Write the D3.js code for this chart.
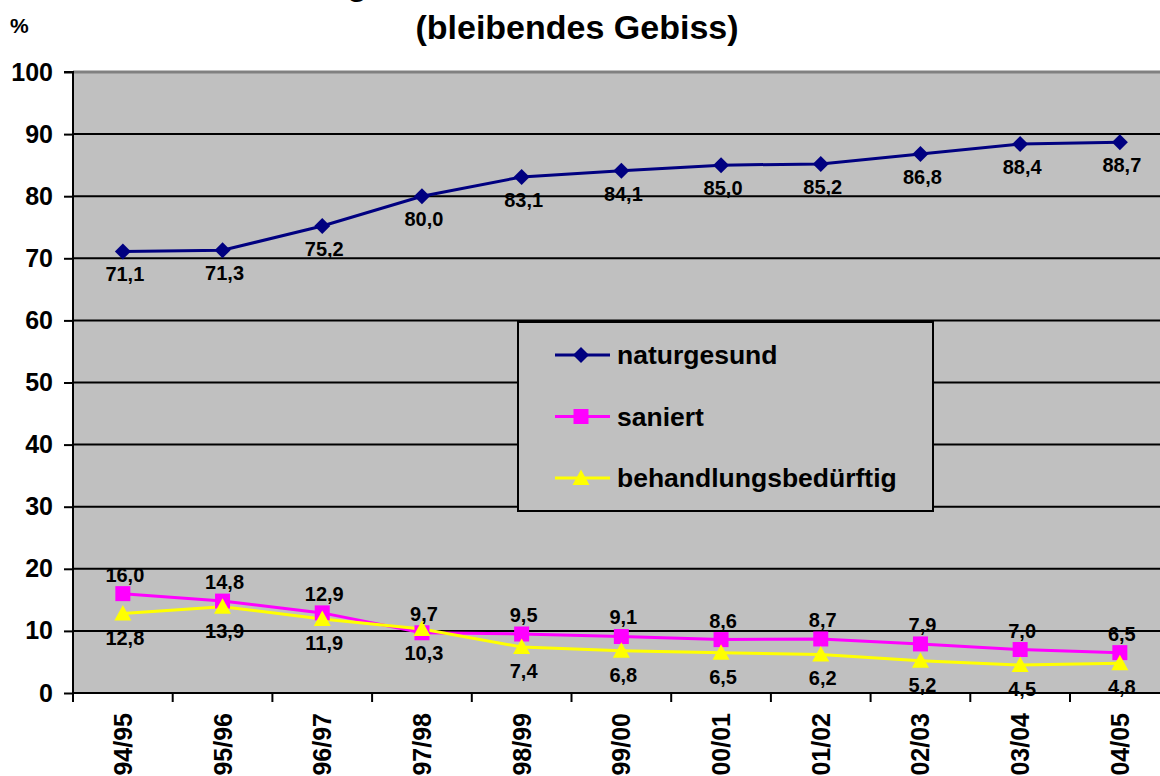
<!DOCTYPE html>
<html><head><meta charset="utf-8">
<script src="https://cdn.jsdelivr.net/npm/d3@7"></script>
<style>
html,body{margin:0;padding:0;background:#fff;}
svg{display:block;font-family:"Liberation Sans",Arial,sans-serif;font-weight:bold;}
</style></head>
<body>
<svg id="chart" width="1160" height="776"></svg>
<script>
const categories = ["94/95","95/96","96/97","97/98","98/99","99/00","00/01","01/02","02/03","03/04","04/05"];
const naturgesund = [71.1,71.3,75.2,80.0,83.1,84.1,85.0,85.2,86.8,88.4,88.7];
const saniert = [16.0,14.8,12.9,9.7,9.5,9.1,8.6,8.7,7.9,7.0,6.5];
const behandlungsbeduerftig = [12.8,13.9,11.9,10.3,7.4,6.8,6.5,6.2,5.2,4.5,4.8];
const seriesNames = ["naturgesund","saniert","behandlungsbedürftig"];
const yTicks = [0,10,20,30,40,50,60,70,80,90,100];
const titleLines = ["Entwicklung der Zahnbefunde","(bleibendes Gebiss)"];
const yUnit = "%";

(function(){
const svg = d3.select("#chart");
const pLeft = 73, pTop = 72, pBottom = 693;
const bandW = 99.7;
const pRight = pLeft + bandW * categories.length;

const x = d3.scaleBand().domain(categories).range([pLeft, pRight]);
const y = d3.scaleLinear().domain([0,100]).range([pBottom, pTop]);
const fmt = v => d3.format(".1f")(v).replace(".", ",");

svg.append("rect").attr("x", pLeft).attr("y", pTop).attr("width", pRight-pLeft).attr("height", pBottom-pTop).attr("fill", "#C0C0C0");

svg.append("g").selectAll("line").data(yTicks.filter(t => t > 0 && t < 100)).join("line")
  .attr("x1", pLeft).attr("x2", pRight).attr("y1", d => y(d)).attr("y2", d => y(d))
  .attr("stroke", "#000").attr("stroke-width", 2);
svg.append("line").attr("x1", pLeft).attr("x2", pRight).attr("y1", y(100)).attr("y2", y(100))
  .attr("stroke", "#808080").attr("stroke-width", 3);

const yAxis = d3.axisLeft(y).tickValues(yTicks).tickSize(9).tickPadding(11).tickFormat(d3.format("d"));
const gy = svg.append("g").attr("transform", `translate(${pLeft},0)`).call(yAxis);
gy.select(".domain").attr("stroke", "#000").attr("stroke-width", 2).attr("d", `M-9,${pTop}H0V${pBottom}`);
gy.selectAll(".tick line").attr("stroke", "#000").attr("stroke-width", 2);
gy.selectAll("text").attr("font-size", 25).attr("font-weight", "bold").attr("fill", "#000")
  .attr("font-family", "Liberation Sans, Arial, sans-serif");

const gx = svg.append("g").attr("transform", `translate(0,${pBottom})`);
gx.append("line").attr("x1", pLeft).attr("x2", pRight).attr("stroke", "#000").attr("stroke-width", 2);
const boundaries = d3.range(categories.length + 1).map(i => pLeft + i * bandW);
gx.selectAll("line.tk").data(boundaries).join("line").attr("class", "tk")
  .attr("x1", d => d).attr("x2", d => d).attr("y1", 0).attr("y2", 9)
  .attr("stroke", "#000").attr("stroke-width", 2);
gx.selectAll("text").data(categories).join("text")
  .attr("transform", d => `translate(${x(d) + x.bandwidth()/2 + 9},${20}) rotate(-90)`)
  .attr("text-anchor", "end").attr("font-size", 25).attr("fill", "#000").text(d => d);

// first title line lies mostly above the visible area, as in the reference
svg.append("text").attr("x", 410).attr("y", -5).attr("text-anchor", "middle").attr("font-size", 34).text(titleLines[0]);
svg.append("text").attr("x", 577).attr("y", 39).attr("text-anchor", "middle").attr("font-size", 34).text(titleLines[1]);
svg.append("text").attr("x", 10).attr("y", 33).attr("font-size", 21).text(yUnit);

const cx = d => x(d) + x.bandwidth()/2;
const series = [
  {name: seriesNames[0], values: naturgesund, color: "#000080", marker: "diamond", labelDy: 30},
  {name: seriesNames[1], values: saniert, color: "#FF00FF", marker: "square", labelDy: -12},
  {name: seriesNames[2], values: behandlungsbeduerftig, color: "#FFFF00", marker: "triangle", labelDy: 31}
];
const markerPath = {
  diamond: "M0,-8L8,0L0,8L-8,0Z",
  square: "M-7.5,-7.5H7.5V7.5H-7.5Z",
  triangle: "M0,-8.5L8.5,7H-8.5Z"
};
const line = d3.line().x((d,i) => cx(categories[i])).y(d => y(d)).curve(d3.curveLinear);

series.forEach(s => {
  svg.append("path").datum(s.values).attr("d", line).attr("fill", "none")
    .attr("stroke", s.color).attr("stroke-width", 3);
});
series.forEach(s => {
  svg.append("g").selectAll("path").data(s.values).join("path")
    .attr("transform", (d,i) => `translate(${cx(categories[i])},${y(d)})`)
    .attr("d", markerPath[s.marker]).attr("fill", s.color);
});
series.forEach(s => {
  svg.append("g").selectAll("text").data(s.values).join("text")
    .attr("x", (d,i) => cx(categories[i]) + 2).attr("y", d => y(d) + s.labelDy)
    .attr("text-anchor", "middle").attr("font-size", 20).attr("fill", "#000").text(d => fmt(d));
});

const lg = svg.append("g").attr("transform", "translate(518,322)");
lg.append("rect").attr("width", 415).attr("height", 189).attr("fill", "#C0C0C0").attr("stroke", "#000").attr("stroke-width", 2);
series.forEach((s, i) => {
  const yy = 33 + i * 61.5;
  lg.append("line").attr("x1", 37).attr("x2", 92).attr("y1", yy).attr("y2", yy).attr("stroke", s.color).attr("stroke-width", 3);
  lg.append("path").attr("transform", `translate(63,${yy})`).attr("d", markerPath[s.marker]).attr("fill", s.color);
  lg.append("text").attr("x", 99).attr("y", yy + 9).attr("font-size", 26.5).attr("fill", "#000").text(s.name);
});
})();
</script>
</body></html>
